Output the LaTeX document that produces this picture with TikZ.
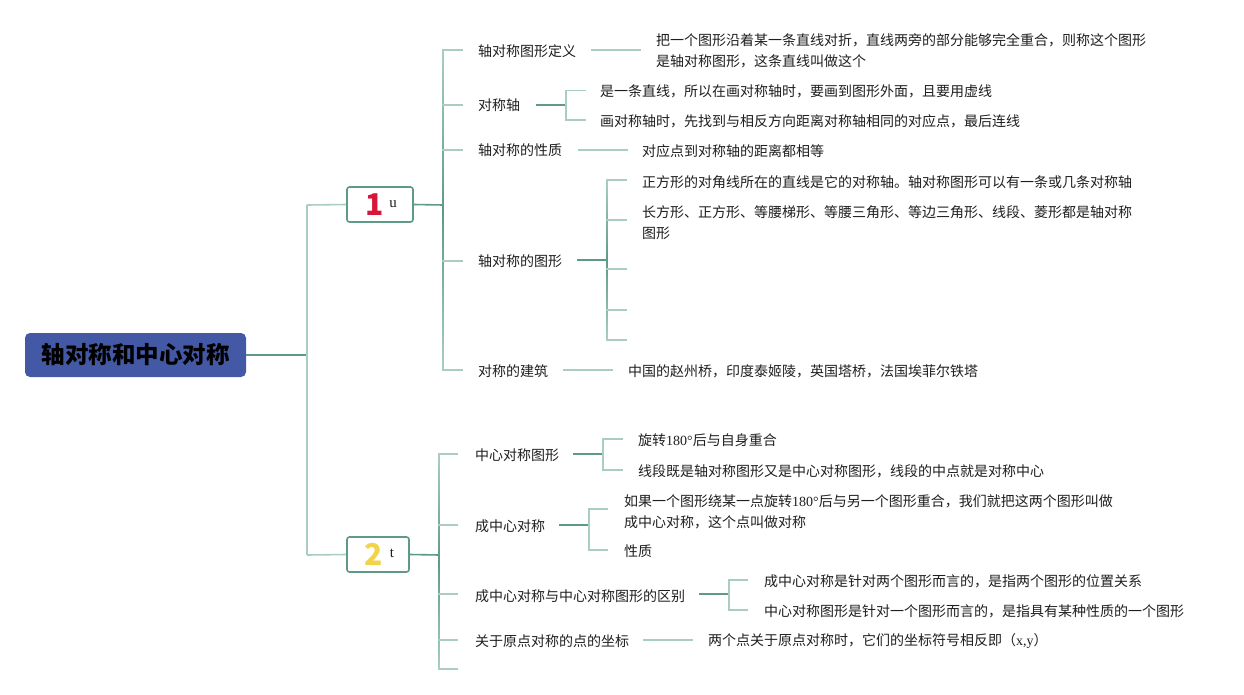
\documentclass[tikz,border=0pt]{standalone}
\usepackage{fontspec}
\setmainfont{Noto Sans CJK SC}
\newfontfamily\latserif{Liberation Serif}
\definecolor{lightg}{HTML}{A9CEC0}
\definecolor{darkg}{HTML}{5E9A84}
\definecolor{rootblue}{HTML}{4459A6}
\definecolor{numred}{HTML}{D8163A}
\definecolor{numyellow}{HTML}{F2D34C}
\definecolor{txt}{HTML}{1F1F1F}
\newcommand{\lat}[1]{{\latserif #1}}
\tikzset{
 lt/.style={draw=lightg, line width=1.6pt},
 dk/.style={draw=darkg, line width=1.6pt},
 lbl/.style={anchor=west, inner sep=0pt, font=\fontsize{14}{20.5}\selectfont, text=txt, align=left},
 rootbox/.style={fill=rootblue, rounded corners=5pt, minimum width=221pt, minimum height=44pt, inner sep=0pt, font=\fontsize{23.5}{28}\selectfont\bfseries, text=black},
 numbox/.style={draw=darkg, line width=1.6pt, fill=white, rounded corners=2.5pt, minimum height=35pt, inner sep=0pt},
 numtxt/.style={inner sep=0pt, font=\fontsize{30}{30}\selectfont\bfseries},
 subtxt/.style={inner sep=0pt, font=\latserif\fontsize{15}{15}\selectfont, text=txt},
 bar/.style={top color=lightg, bottom color=lightg, middle color=darkg},
}
\begin{document}
\begin{tikzpicture}[x=1pt,y=-1pt]
\fill[white] (0,0) rectangle (1244,695);
\useasboundingbox (0,0) rectangle (1244,695);

% root
\node[rootbox] (root) at (135.5,355) {轴对称和中心对称};
\coordinate (rt) at (307,355);
\coordinate (rt1) at (307,205);
\coordinate (rt2) at (307,555);
\draw[dk] (root.east) -- (rt);
\draw[lt] (rt1) -- (rt2);

% number boxes
\node[numbox, minimum width=66pt] (b1) at (380,204.5) {};
\node[numtxt, text=numred] (n1) at (375,204.5) {1};
\node[subtxt] (u1) at (393,204) {u};
\node[numbox, minimum width=62pt] (b2) at (378,554.5) {};
\node[numtxt, text=numyellow] (n2) at (374,554.5) {2};
\node[subtxt] (t2) at (392,553) {t};
\draw[lt] (rt1) -- (b1.west);
\draw[lt] (rt2) -- (b2.west);

% ===== branch 1 =====
\coordinate (j1) at (443,205);
\draw[dk] (b1.east) -- (j1);
\shade[bar] (442.2,50) rectangle (443.8,370);
\foreach \yy in {50,105,150,261,370} \draw[lt] (442.2,\yy) -- (463,\yy);

\node[lbl] (a1) at (478,51) {轴对称图形定义};
\node[lbl] (a2) at (478,105) {对称轴};
\node[lbl] (a3) at (478,150) {轴对称的性质};
\node[lbl] (a4) at (478,261) {轴对称的图形};
\node[lbl] (a5) at (478,371) {对称的建筑};

% a1 -> leaf
\node[lbl] (a1l) at (656,51) {把一个图形沿着某一条直线对折，直线两旁的部分能够完全重合，则称这个图形\\是轴对称图形，这条直线叫做这个};
\draw[lt] (591,50) -- (641,50);

% a2 -> two leaves
\draw[dk] (536,105) -- (566,105);
\draw[lt] (586,90.5) -- (566,90.5) -- (566,120) -- (586,120);
\node[lbl] (a2l1) at (600,91.5) {是一条直线，所以在画对称轴时，要画到图形外面，且要用虚线};
\node[lbl] (a2l2) at (600,121.5) {画对称轴时，先找到与相反方向距离对称轴相同的对应点，最后连线};

% a3 -> leaf
\draw[lt] (578,150) -- (628,150);
\node[lbl] (a3l) at (642,151.5) {对应点到对称轴的距离都相等};

% a4 -> five leaves
\draw[dk] (577,260) -- (607,260);
\shade[bar] (606.2,180) rectangle (607.8,340);
\foreach \yy in {180,220,269,310,340} \draw[lt] (606.2,\yy) -- (627,\yy);
\node[lbl] (a4l1) at (642,182) {正方形的对角线所在的直线是它的对称轴。轴对称图形可以有一条或几条对称轴};
\node[lbl] (a4l2) at (642,222.5) {长方形、正方形、等腰梯形、等腰三角形、等边三角形、线段、菱形都是轴对称\\图形};

% a5 -> leaf
\draw[lt] (563,370) -- (613,370);
\node[lbl] (a5l) at (628,371) {中国的赵州桥，印度泰姬陵，英国塔桥，法国埃菲尔铁塔};

% ===== branch 2 =====
\coordinate (j2) at (439,555);
\draw[dk] (b2.east) -- (j2);
\shade[bar] (438.2,454) rectangle (439.8,669);
\foreach \yy in {454,525,594,640,669} \draw[lt] (438.2,\yy) -- (458,\yy);

\node[lbl] (c1) at (475,455.5) {中心对称图形};
\node[lbl] (c2) at (475,526) {成中心对称};
\node[lbl] (c3) at (475,596) {成中心对称与中心对称图形的区别};
\node[lbl] (c4) at (475,641) {关于原点对称的点的坐标};

% c1
\draw[dk] (573,454) -- (603,454);
\draw[lt] (623,439) -- (603,439) -- (603,470) -- (623,470);
\node[lbl] (c1l1) at (638,440.5) {旋转\lat{180°}后与自身重合};
\node[lbl] (c1l2) at (638,471) {线段既是轴对称图形又是中心对称图形，线段的中点就是对称中心};

% c2
\draw[dk] (559,525) -- (589,525);
\draw[lt] (608,509) -- (589,509) -- (589,550) -- (608,550);
\node[lbl] (c2l1) at (624,512) {如果一个图形绕某一点旋转\lat{180°}后与另一个图形重合，我们就把这两个图形叫做\\成中心对称，这个点叫做对称};
\node[lbl] (c2l2) at (624,551) {性质};

% c3
\draw[dk] (699,594) -- (729,594);
\draw[lt] (748,580) -- (729,580) -- (729,610) -- (748,610);
\node[lbl] (c3l1) at (764,581) {成中心对称是针对两个图形而言的，是指两个图形的位置关系};
\node[lbl] (c3l2) at (764,611) {中心对称图形是针对一个图形而言的，是指具有某种性质的一个图形};

% c4
\draw[lt] (643,640) -- (693,640);
\node[lbl] (c4l) at (708,641) {两个点关于原点对称时，它们的坐标符号相反即（\lat{x,y}）};
\end{tikzpicture}
\end{document}
